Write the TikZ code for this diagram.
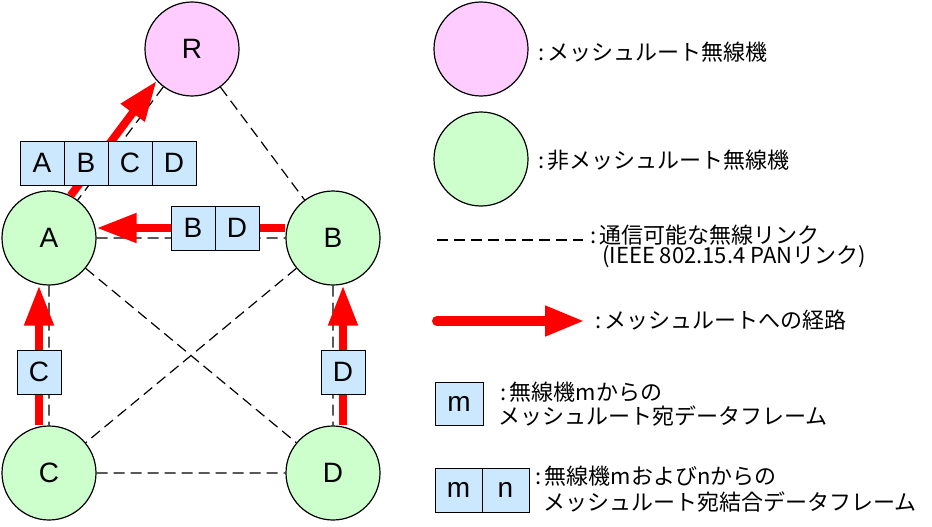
\documentclass[tikz,border=0pt]{standalone}
\usepackage{fontspec}
\setmainfont{Liberation Sans}
\newfontfamily\jpfont{Noto Sans CJK JP}
\usetikzlibrary{arrows.meta,positioning}
\definecolor{rootpink}{RGB}{255,204,255}
\definecolor{stagreen}{RGB}{204,255,204}
\definecolor{frameblue}{RGB}{204,232,255}

\begin{document}
\begin{tikzpicture}[x=1pt,y=-1pt,
  link/.style={dash pattern=on 11pt off 6pt,line width=1.2pt},
  route/.style={red,line width=8pt,-{Triangle[length=40pt,width=28pt]}}]
  \tikzstyle{root}=[circle,draw,line width=1.2pt,fill=rootpink,minimum size=94pt,inner sep=0pt,font=\fontsize{28}{30}\selectfont]
  \tikzstyle{station}=[root,fill=stagreen]
  \tikzstyle{frame}=[draw,line width=1pt,fill=frameblue,minimum width=44pt,minimum height=44pt,inner sep=0pt,outer sep=0pt,font=\fontsize{28}{30}\selectfont]
  \tikzstyle{legend}=[anchor=west,inner sep=0pt,font=\jpfont\fontsize{22}{24}\selectfont]

  \useasboundingbox (0,0) rectangle (932,527);

  \node[root]    (R) at (192,49)  {R};
  \node[station] (A) at (49,238)  {A};
  \node[station] (B) at (333,238) {B};
  \node[station] (C) at (49,473)  {C};
  \node[station] (D) at (333,473) {D};

  \draw[link] (R) -- (A)  (R) -- (B)  (A) -- (B)  (A) -- (C)
              (B) -- (D)  (C) -- (D)  (A) -- (D)  (B) -- (C);

  \draw[route] (A.63) -- (R.222);
  \draw[route] ([yshift=10pt]B.west) -- ([yshift=10pt]A.east);
  \draw[route] ([xshift=-10pt]C.north) -- ([xshift=-10pt]A.south);
  \draw[route] ([xshift=10pt]D.north) -- ([xshift=10pt]B.south);

  \node[frame] (fa) at (42,163) {A};
  \node[frame,right=0pt of fa] (fb) {B};
  \node[frame,right=0pt of fb] (fc) {C};
  \node[frame,right=0pt of fc] (fd) {D};
  \node[frame] (gb) at (193,228) {B};
  \node[frame,right=0pt of gb] (gd) {D};
  \node[frame] (hc) at (39,372) {C};
  \node[frame] (hd) at (343,372) {D};

  \node[root]    (legR) at (481,49)  {};
  \node[station] (legS) at (481,159) {};
  \node[legend] (tR) at (538,52)  {:\,メッシュルート無線機};
  \node[legend] (tS) at (538,160) {:\,非メッシュルート無線機};

  \coordinate (l1) at (437,240);
  \coordinate (l2) at (583,240);
  \draw[link] (l1) -- (l2);
  \node[legend] (tL)  at (590,235) {:\,通信可能な無線リンク};
  \node[legend] (tL2) at (602,257) {(IEEE 802.15.4 PANリンク)};

  \coordinate (a1) at (437,321);
  \coordinate (a2) at (585,321);
  \draw[route,line width=10pt,line cap=round] (a1) -- (a2);
  \node[legend] (tA) at (595,320) {:\,メッシュルートへの経路};

  \node[frame,minimum width=48pt,minimum height=43pt] (km) at (459,404) {m};
  \node[legend] (tm1) at (500,392) {:\,無線機mからの};
  \node[legend] (tm2) at (498,416) {メッシュルート宛データフレーム};

  \node[frame,minimum width=47pt] (kn1) at (458.5,490) {m};
  \node[frame,minimum width=47pt,right=0pt of kn1] (kn2) {n};
  \node[legend] (tn1) at (535,476) {:\,無線機mおよびnからの};
  \node[legend] (tn2) at (543,502) {メッシュルート宛結合データフレーム};
\end{tikzpicture}
\end{document}
